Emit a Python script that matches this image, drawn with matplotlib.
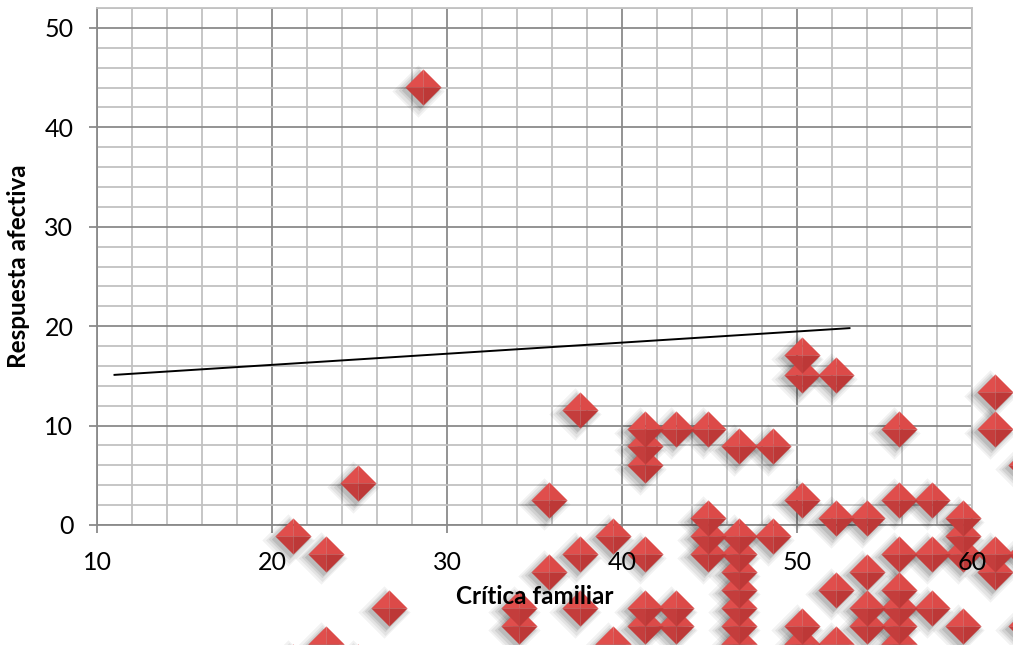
import matplotlib
matplotlib.use("Agg")
import matplotlib.pyplot as plt
from matplotlib.ticker import MultipleLocator
from matplotlib.transforms import ScaledTranslation

plt.rcParams['font.family'] = ['Lato', 'DejaVu Sans']

# Critica familiar (x) vs Respuesta afectiva (y)
x_vals = [28.6,
          50.3,
          50.3, 52.2,
          61.3,
          37.6,
          41.3, 43.1, 44.9, 55.8, 61.3,
          41.3, 46.7, 48.6,
          41.3, 63.1,
          24.9,
          35.8, 50.3, 55.8, 57.7,
          44.9, 52.2, 54.0, 59.5,
          21.2, 39.5, 44.9, 46.7, 48.6, 59.5,
          23.1, 37.6, 41.3, 44.9, 46.7, 55.8, 57.7, 59.5, 61.3, 63.1,
          35.8, 46.7, 54.0, 61.3,
          46.7, 52.2, 55.8,
          26.7, 34.1, 37.6, 41.3, 43.1, 46.7, 54.0, 55.8, 57.7,
          34.1, 41.3, 43.1, 46.7, 50.3, 54.0, 55.8, 59.5, 63.1,
          23.1, 39.5, 46.7, 50.3, 52.2, 55.8,
          21.2, 24.9]
y_vals = [44.1,
          17.1,
          15.1, 15.1,
          13.4,
          11.6,
          9.7, 9.7, 9.7, 9.7, 9.7,
          7.9, 7.9, 7.9,
          6.0, 6.0,
          4.2,
          2.5, 2.5, 2.5, 2.5,
          0.7, 0.7, 0.7, 0.7,
          -1.1, -1.1, -1.1, -1.1, -1.1, -1.1,
          -2.9, -2.9, -2.9, -2.9, -2.9, -2.9, -2.9, -2.9, -2.9, -2.9,
          -4.7, -4.7, -4.7, -4.7,
          -6.5, -6.5, -6.5,
          -8.3, -8.3, -8.3, -8.3, -8.3, -8.3, -8.3, -8.3, -8.3,
          -10.2, -10.2, -10.2, -10.2, -10.2, -10.2, -10.2, -10.2, -10.2,
          -12.0, -12.0, -12.0, -12.0, -12.0, -12.0,
          -13.8, -13.8]

# Linear trend line end points
trend_x = [11.0, 53.0]
trend_y = [15.1, 19.8]

x_ticks = [10, 20, 30, 40, 50, 60]
y_ticks = [0, 10, 20, 30, 40, 50]
x_label = "Crítica familiar"
y_label = "Respuesta afectiva"

fig = plt.figure(figsize=(10.13, 6.45), dpi=100)
rect = [97 / 1013, 120 / 645, 875 / 1013, 517 / 645]
ax = fig.add_axes(rect)
ax.set_xlim(10, 60)
ax.set_ylim(0, 52)

# grid: major every 10, minor every 2
ax.xaxis.set_major_locator(MultipleLocator(10))
ax.yaxis.set_major_locator(MultipleLocator(10))
ax.xaxis.set_minor_locator(MultipleLocator(2))
ax.yaxis.set_minor_locator(MultipleLocator(2))
ax.grid(which='minor', color='#c2c2c2', linewidth=1.3)
ax.grid(which='major', color='#8a8a8a', linewidth=1.3)
ax.set_axisbelow(True)
for side in ['top', 'right']:
    ax.spines[side].set_color('#c2c2c2')
    ax.spines[side].set_linewidth(1.3)
for side in ['left', 'bottom']:
    ax.spines[side].set_color('#8a8a8a')
    ax.spines[side].set_linewidth(1.3)
ax.tick_params(which='major', direction='out', length=6, width=1.3, color='#8a8a8a',
               labelbottom=False, labelleft=False)
ax.tick_params(which='minor', length=0)

# trend line
ax.plot(trend_x, trend_y, color='black', linewidth=1.4, zorder=3)

# bevelled diamond markers with soft shadow
diamond = [(-1, 0), (0, 1), (1, 0), (0, -1)]
facets = [
    ([(-1, 0), (0, 1), (0, 0)], '#e04e4c'),
    ([(0, 1), (1, 0), (0, 0)], '#dc4a48'),
    ([(-1, 0), (0, -1), (0, 0)], '#c43d3c'),
    ([(1, 0), (0, -1), (0, 0)], '#bd3837'),
]
size = 26 ** 2
for dx, dy, grow, a in [(-5, -4, 1.45, 0.05), (-4.5, -4, 1.3, 0.06),
                        (-4, -3.5, 1.15, 0.08), (-3, -3, 1.03, 0.10)]:
    shadow_tr = ax.transData + ScaledTranslation(dx / 100, dy / 100, fig.dpi_scale_trans)
    ax.scatter(x_vals, y_vals, s=size * grow ** 2, marker=diamond, color='black',
               alpha=a, linewidths=0, transform=shadow_tr, clip_on=False, zorder=4)
for verts, col in facets:
    ax.scatter(x_vals, y_vals, s=size, marker=verts, color=col,
               linewidths=0, clip_on=False, zorder=5)

# overlay axes carrying the labels on top of the markers
ax2 = fig.add_axes(rect, sharex=ax, sharey=ax)
ax2.patch.set_visible(False)
for sp in ax2.spines.values():
    sp.set_visible(False)
ax2.set_xticks(x_ticks)
ax2.set_yticks(y_ticks)
ax2.tick_params(which='both', length=0, labelsize=18, colors='black')
ax2.tick_params(axis='x', pad=19)
ax2.tick_params(axis='y', pad=17)
ax2.set_xlim(10, 60)
ax2.set_ylim(0, 52)
ax2.set_xlabel(x_label, fontsize=17.5, fontweight='bold', labelpad=8)
ax2.set_ylabel(y_label, fontsize=17.5, fontweight='bold', labelpad=10)

fig.savefig("out.png", dpi=100)
